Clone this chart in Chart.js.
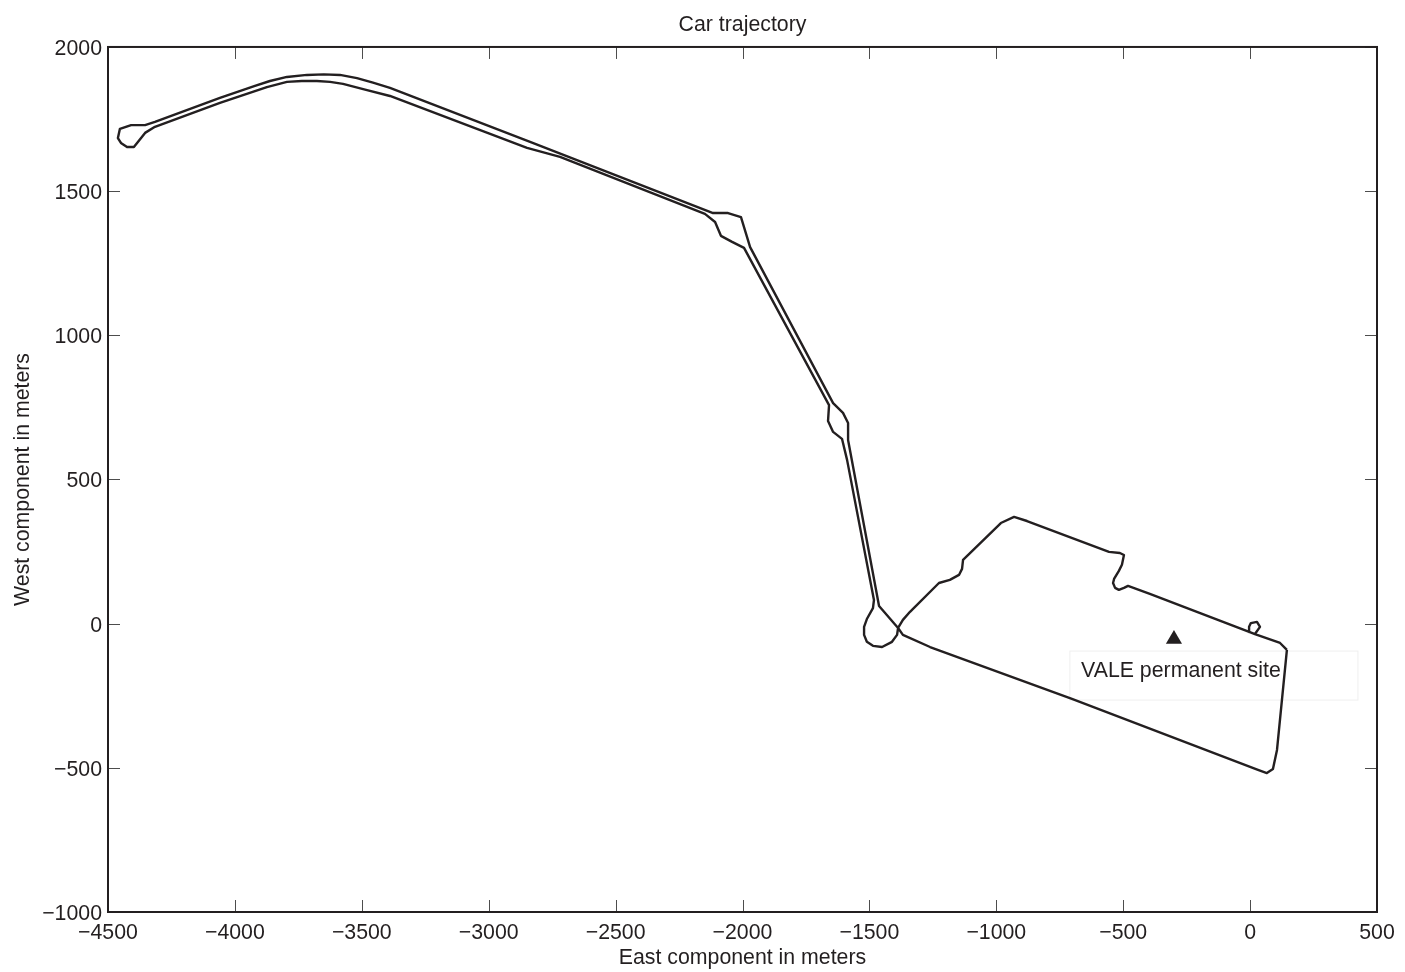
<!DOCTYPE html>
<html>
<head>
<meta charset="utf-8">
<title>Car trajectory</title>
<script src="https://cdn.jsdelivr.net/npm/chart.js@4"></script>
<style>
  html, body { margin: 0; padding: 0; background: #fff; }
  canvas { display: block; }
</style>
</head>
<body>
<canvas id="trajectoryChart" width="1405" height="972"></canvas>
<script>
const eastValues = [145, 118, 19, -1, -4, 3, 27, 39, 19, -1, -395, -481, -497, -517, -532, -540, -536, -517, -505, -497, -513, -556,
  -879, -930, -982, -1131, -1135, -1147, -1183, -1226, -1340, -1368, -1387, -1391, -1411, -1450, -1486, -1510, -1521, -1521, -1510, -1486, -1482,
  -1588, -1608, -1643, -1663, -1659, -1994, -2041, -2085, -2108, -2148, -2719, -2849, -3389, -3487, -3574, -3625, -3677, -3736, -3795, -3874, -4059, -4315, -4354,
  -4398, -4425, -4449, -4461, -4453, -4409, -4354, -4315, -4059, -3921, -3862, -3795, -3716, -3650, -3586, -3519, -3456, -3389, -2837, -2116, -2057, -2006, -1970,
  -1643, -1604, -1584, -1584, -1462, -1387, -1368, -1261, -702, 31, 66, 90, 106, 145];
const westValues = [-91, -67, -36, -29, -11, 2, 6, -11, -36, -29, 103, 131, 124, 117, 124, 141, 155, 183, 204, 238, 245, 249,
  356, 370, 349, 221, 190, 169, 152, 141, 41, 13, -15, -39, -63, -81, -77, -63, -39, -11, 16, 54, 82,
  568, 641, 665, 703, 758, 1303, 1324, 1345, 1393, 1421, 1619, 1650, 1830, 1852, 1872, 1879, 1882, 1882, 1879, 1861, 1806, 1723, 1702,
  1653, 1653, 1667, 1684, 1716, 1729, 1729, 1740, 1823, 1865, 1882, 1896, 1903, 1905, 1903, 1892, 1876, 1858, 1671, 1424, 1424, 1410, 1306,
  765, 731, 696, 637, 61, -15, -39, -81, -261, -507, -518, -504, -438, -91];
const siteEast = [-300];
const siteWest = [-54];
const siteLabel = 'VALE permanent site';
const xTicks = [-4500, -4000, -3500, -3000, -2500, -2000, -1500, -1000, -500, 0, 500];
const yTicks = [-1000, -500, 0, 500, 1000, 1500, 2000];

const ink = '#231f20';
const fontFamily = '"Liberation Sans", Arial, sans-serif';
const textSize = 21.3;

function minusLabel(value) {
    return String(value).replace('-', '\u2212');
}

// faint box behind the site label, drawn under the track
const siteBox = {
    id: 'siteBox',
    beforeDatasetsDraw(chart) {
        const x = chart.scales.x, y = chart.scales.y, ctx = chart.ctx;
        ctx.save();
        ctx.strokeStyle = '#efefef';
        ctx.lineWidth = 1;
        ctx.strokeRect(x.getPixelForValue(-710), y.getPixelForValue(-95),
            x.getPixelForValue(425) - x.getPixelForValue(-710),
            y.getPixelForValue(-265) - y.getPixelForValue(-95));
        ctx.fillStyle = ink;
        ctx.font = textSize + 'px ' + fontFamily;
        ctx.textBaseline = 'middle';
        ctx.fillText(siteLabel, x.getPixelForValue(-666), y.getPixelForValue(-164));
        ctx.restore();
    }
};

// matlab style frame, ticks point inwards on all four sides
const innerTicks = {
    id: 'innerTicks',
    afterDraw(chart) {
        const a = chart.chartArea, ctx = chart.ctx, len = 12;
        ctx.save();
        ctx.strokeStyle = '#4d4d4d';
        ctx.lineWidth = 1;
        ctx.beginPath();
        xTicks.forEach(function (v) {
            const p = Math.round(chart.scales.x.getPixelForValue(v)) + 0.5;
            ctx.moveTo(p, a.bottom); ctx.lineTo(p, a.bottom - len);
            ctx.moveTo(p, a.top); ctx.lineTo(p, a.top + len);
        });
        yTicks.forEach(function (v) {
            const p = Math.round(chart.scales.y.getPixelForValue(v)) + 0.5;
            ctx.moveTo(a.left, p); ctx.lineTo(a.left + len, p);
            ctx.moveTo(a.right, p); ctx.lineTo(a.right - len, p);
        });
        ctx.stroke();
        ctx.strokeStyle = ink;
        ctx.lineWidth = 2;
        ctx.strokeRect(a.left, a.top, a.right - a.left, a.bottom - a.top);
        ctx.restore();
    }
};

const ctx = document.getElementById('trajectoryChart');
const trajectoryChart = new Chart(ctx, {
    type: 'scatter',
    data: {
        datasets: [{
            label: 'Car trajectory',
            data: eastValues.map(function (v, i) { return { x: v, y: westValues[i] }; }),
            showLine: true,
            borderColor: ink,
            borderWidth: 2.4,
            borderJoinStyle: 'round',
            pointRadius: 0,
            tension: 0
        }, {
            label: siteLabel,
            data: siteEast.map(function (v, i) { return { x: v, y: siteWest[i] }; }),
            pointStyle: 'triangle',
            pointRadius: 9.3,
            pointBackgroundColor: ink,
            pointBorderWidth: 0
        }]
    },
    options: {
        responsive: false,
        animation: false,
        layout: { padding: { left: 10, right: 28 } },
        plugins: {
            legend: { display: false },
            tooltip: { enabled: false },
            title: {
                display: true,
                fullSize: false,
                text: 'Car trajectory',
                color: ink,
                font: { family: fontFamily, size: textSize, weight: 'normal' },
                padding: { top: 12, bottom: 9.4 }
            }
        },
        scales: {
            x: {
                type: 'linear',
                min: -4500,
                max: 500,
                afterBuildTicks(axis) { axis.ticks = xTicks.map(function (v) { return { value: v }; }); },
                afterFit(axis) { axis.height = 60; },
                grid: { display: false, drawTicks: false },
                border: { display: false },
                ticks: {
                    autoSkip: false,
                    maxRotation: 0,
                    padding: 8,
                    color: ink,
                    font: { family: fontFamily, size: textSize },
                    callback: minusLabel
                },
                title: {
                    display: true,
                    text: 'East component in meters',
                    color: ink,
                    padding: { top: 0, bottom: 1 },
                    font: { family: fontFamily, size: textSize }
                }
            },
            y: {
                type: 'linear',
                min: -1000,
                max: 2000,
                afterBuildTicks(axis) { axis.ticks = yTicks.map(function (v) { return { value: v }; }); },
                afterFit(axis) { axis.width = 98; },
                grid: { display: false, drawTicks: false },
                border: { display: false },
                ticks: {
                    autoSkip: false,
                    padding: 6,
                    labelOffset: 2,
                    color: ink,
                    font: { family: fontFamily, size: textSize },
                    callback: minusLabel
                },
                title: {
                    display: true,
                    text: 'West component in meters',
                    color: ink,
                    padding: { top: 0, bottom: 0 },
                    font: { family: fontFamily, size: textSize }
                }
            }
        }
    },
    plugins: [siteBox, innerTicks]
});
</script>
</body>
</html>
